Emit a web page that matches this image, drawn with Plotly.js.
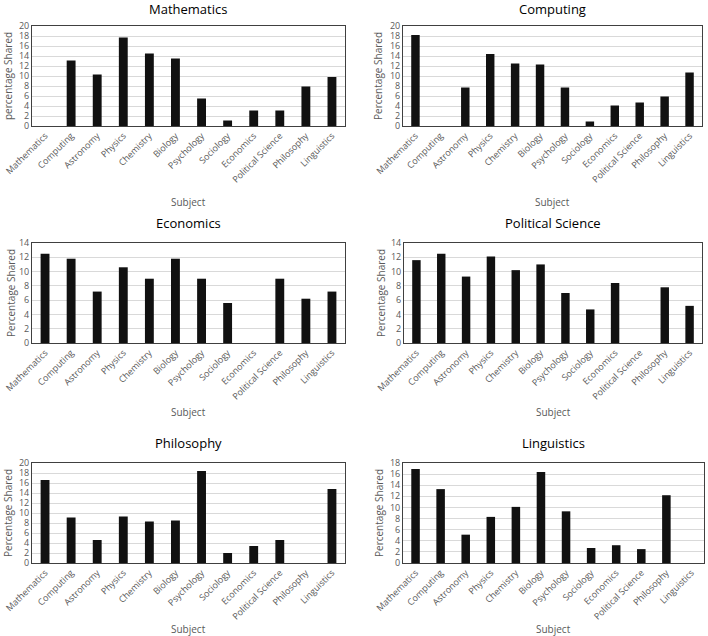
<!DOCTYPE html>
<html>
<head>
<meta charset="utf-8">
<script src="https://cdn.plot.ly/plotly-3.0.1.min.js"></script>
<style>
  html, body { margin: 0; padding: 0; background: #fff; }
  #chart { width: 708px; height: 636px; }
</style>
</head>
<body>
<div id="chart"></div>
<script>
// subjects along every x axis
const subjects = ['Mathematics', 'Computing', 'Astronomy', 'Physics', 'Chemistry', 'Biology',
    'Psychology', 'Sociology', 'Economics', 'Political Science', 'Philosophy', 'Linguistics'];

// percentage shared
const mathematics      = [0, 13.1, 10.3, 17.7, 14.5, 13.5, 5.5, 1.1, 3.1, 3.1, 7.9, 9.8];
const computing        = [18.2, 0, 7.7, 14.4, 12.5, 12.3, 7.7, 0.9, 4.1, 4.7, 5.9, 10.7];
const economics        = [12.5, 11.8, 7.2, 10.6, 9.0, 11.8, 9.0, 5.6, 0, 9.0, 6.2, 7.2];
const politicalScience = [11.6, 12.5, 9.3, 12.1, 10.2, 11.0, 7.0, 4.7, 8.4, 0, 7.8, 5.2];
const philosophy       = [16.6, 9.1, 4.6, 9.3, 8.3, 8.5, 18.4, 2.0, 3.4, 4.6, 0, 14.8];
const linguistics      = [16.9, 13.3, 5.1, 8.3, 10.1, 16.4, 9.3, 2.7, 3.2, 2.5, 12.2, 0];

const panelTitles = ['Mathematics', 'Computing', 'Economics', 'Political Science', 'Philosophy', 'Linguistics'];
const yTitles = ['percentage Shared', 'Percentage Shared', 'Percentage Shared',
    'Percentage Shared', 'Percentage Shared', 'Percentage Shared'];
const yMax = [20, 20, 14, 14, 20, 18];
const series = [mathematics, computing, economics, politicalScience, philosophy, linguistics];

const W = 708, H = 636;
// plot boxes in pixels: [left, right, top, bottom]
const boxes = [
    [32, 345, 26, 126], [403, 702, 26, 126],
    [32, 345, 243, 343], [404, 702, 243, 343],
    [32, 345, 463, 563], [403, 704, 463, 563]
];
const titleY = [9, 9, 223, 223, 443, 443];
const subjectY = [202, 202, 412, 412, 629, 629];
const yTitleX = [8, 378, 11, 381, 8, 379];

const font = 'Open Sans, Liberation Sans, sans-serif';
let data = [];
let layout = {
    width: W, height: H,
    margin: { l: 0, r: 0, t: 0, b: 0 },
    paper_bgcolor: '#fff',
    plot_bgcolor: '#fff',
    showlegend: false,
    bargap: 0.66,
    font: { family: font, color: '#595959' },
    annotations: []
};

function label(text, x, y, size, color, angle) {
    return {
        text: text, xref: 'paper', yref: 'paper',
        x: x, y: y, xanchor: 'center', yanchor: 'middle',
        textangle: angle || 0, showarrow: false,
        font: { size: size, color: color, family: font }
    };
}

series.forEach(function (vals, i) {
    let n = i + 1;
    let suffix = n === 1 ? '' : n;
    data.push({
        x: subjects,
        y: vals,
        type: 'bar',
        xaxis: 'x' + suffix,
        yaxis: 'y' + suffix,
        marker: { color: '#111111', line: { width: 0 } },
        hoverinfo: 'x+y'
    });

    let b = boxes[i];
    layout['xaxis' + suffix] = {
        domain: [b[0] / W, b[1] / W],
        anchor: 'y' + suffix,
        tickangle: -45,
        tickfont: { size: 9, color: '#595959' },
        showline: true, linecolor: '#404040', linewidth: 1, mirror: true,
        ticks: '', showgrid: false, fixedrange: true
    };
    layout['yaxis' + suffix] = {
        domain: [1 - b[3] / H, 1 - b[2] / H],
        anchor: 'x' + suffix,
        range: [0, yMax[i]],
        dtick: 2,
        tickfont: { size: 9, color: '#595959' },
        showline: true, linecolor: '#404040', linewidth: 1, mirror: true,
        gridcolor: '#d9d9d9', gridwidth: 1,
        zeroline: false, ticks: '', fixedrange: true
    };

    let cx = (b[0] + b[1]) / 2 / W;
    layout.annotations.push(label(panelTitles[i], cx, 1 - titleY[i] / H, 13, '#000'));
    layout.annotations.push(label('Subject', cx, 1 - subjectY[i] / H, 10, '#595959'));
    layout.annotations.push(label(yTitles[i], yTitleX[i] / W, 1 - (b[2] + b[3]) / 2 / H, 10, '#595959', -90));
});

Plotly.newPlot('chart', data, layout, { displayModeBar: false, staticPlot: true });
</script>
</body>
</html>
